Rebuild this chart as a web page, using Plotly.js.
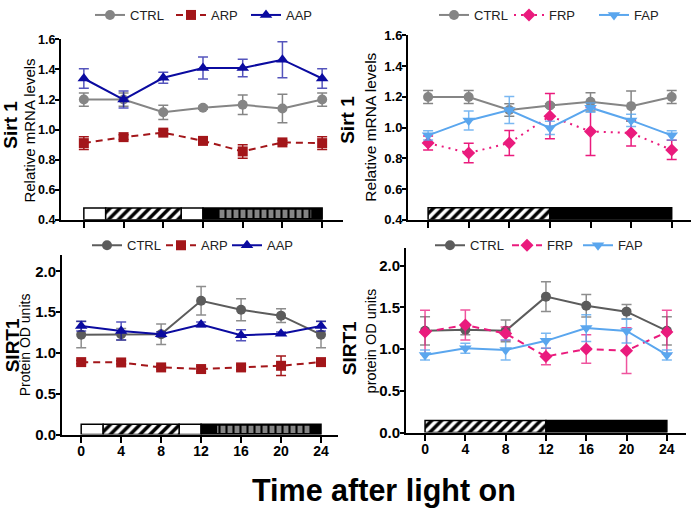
<!DOCTYPE html>
<html>
<head>
<meta charset="utf-8">
<script src="https://cdn.plot.ly/plotly-3.0.1.min.js"></script>
<style>
  html, body { margin: 0; padding: 0; background: #fff; }
  #chart { width: 696px; height: 512px; }
</style>
</head>
<body>
<div id="chart"></div>
<script>
const hours = [0, 4, 8, 12, 16, 20, 24];
const hourTicks = ['0', '4', '8', '12', '16', '20', '24'];

// Sirt 1 mRNA, left panel
const mrnaCtrlA = [1.20, 1.20, 1.115, 1.145, 1.165, 1.14, 1.20];
const mrnaCtrlAErr = [0.044, 0.044, 0.047, 0.01, 0.065, 0.095, 0.044];
const mrnaArp = [0.91, 0.95, 0.98, 0.925, 0.855, 0.915, 0.91];
const mrnaArpErr = [0.042, 0.015, 0.015, 0.012, 0.045, 0.012, 0.042];
const mrnaAap = [1.34, 1.20, 1.345, 1.41, 1.41, 1.465, 1.34];
const mrnaAapErr = [0.065, 0.057, 0.036, 0.073, 0.058, 0.12, 0.065];

// Sirt 1 mRNA, right panel
const mrnaCtrlF = [1.20, 1.20, 1.115, 1.145, 1.168, 1.14, 1.20];
const mrnaCtrlFErr = [0.042, 0.042, 0.04, 0.01, 0.06, 0.098, 0.042];
const mrnaFrp = [0.90, 0.835, 0.90, 1.075, 0.975, 0.965, 0.855];
const mrnaFrpErr = [0.046, 0.064, 0.082, 0.147, 0.156, 0.085, 0.063];
const mrnaFap = [0.95, 1.047, 1.115, 0.998, 1.13, 1.047, 0.95];
const mrnaFapErr = [0.03, 0.062, 0.088, 0.043, 0.03, 0.04, 0.03];

// SIRT1 protein, left panel
const protCtrlA = [1.225, 1.23, 1.23, 1.64, 1.53, 1.458, 1.225];
const protCtrlAErr = [0.16, 0.07, 0.126, 0.175, 0.134, 0.084, 0.16];
const protArp = [0.888, 0.884, 0.823, 0.803, 0.823, 0.843, 0.888];
const protArpErr = [0.02, 0.02, 0.02, 0.03, 0.03, 0.12, 0.02];
const protAap = [1.33, 1.27, 1.23, 1.35, 1.217, 1.237, 1.33];
const protAapErr = [0.06, 0.11, 0.03, 0.03, 0.068, 0.02, 0.06];

// SIRT1 protein, right panel
const protCtrlF = [1.22, 1.234, 1.22, 1.63, 1.52, 1.45, 1.22];
const protCtrlFErr = [0.17, 0.06, 0.13, 0.177, 0.134, 0.087, 0.17];
const protFrp = [1.206, 1.29, 1.187, 0.912, 1.002, 0.982, 1.206];
const protFrpErr = [0.26, 0.18, 0.08, 0.1, 0.17, 0.275, 0.26];
const protFap = [0.931, 1.01, 0.99, 1.1, 1.253, 1.218, 0.931];
const protFapErr = [0.06, 0.06, 0.12, 0.09, 0.16, 0.145, 0.06];

// light / dark schedule strips (hours)
const shiftWhiteStart = [0, 9.8];
const shiftWhiteEnd = [2.2, 12];
const shiftHatchStart = [2.2];
const shiftHatchEnd = [9.8];
const shiftDarkStart = [12];
const shiftDarkEnd = [24];
const shiftGrayStart = [13.6];
const shiftGrayEnd = [22.9];
const fixedHatchStart = [0];
const fixedHatchEnd = [12];
const fixedDarkStart = [12];
const fixedDarkEnd = [24];

const FONT = 'Liberation Sans, Arial, Helvetica, sans-serif';
const CTRL_TOP = '#858585';
const CTRL_BOT = '#5c5c5c';
const ARP_COL = '#a3161a';
const AAP_COL = '#0b0ba0';
const FRP_COL = '#ea1b7d';
const FAP_COL = '#5aa6ee';

const W = 696, H = 512;
const px = v => v / W;
const py = v => 1 - v / H;

// legendwidth only spaces the legend entries out like the original
const series = (y, err, name, color, symbol, dash, axis, legend, slot, errColor) => ({
  type: 'scatter',
  mode: 'lines+markers',
  x: hours,
  y,
  name,
  legend,
  legendwidth: slot,
  xaxis: 'x' + axis,
  yaxis: 'y' + axis,
  line: { color, width: 2, dash },
  marker: { color, symbol, size: symbol.startsWith('triangle') ? 11 : 10 },
  error_y: { type: 'data', array: err, color: errColor || color, thickness: 1.5, width: 5 },
  cliponaxis: false
});

// strip segments as horizontal bars, in data units of each panel
const strip = (starts, ends, yMid, thick, axis, fill, lineW) => ({
  type: 'bar',
  orientation: 'h',
  base: starts,
  x: starts.map((s, i) => ends[i] - s),
  y: starts.map(() => yMid),
  width: starts.map(() => thick),
  xaxis: 'x' + axis,
  yaxis: 'y' + axis,
  showlegend: false,
  hoverinfo: 'skip',
  marker: Object.assign({ line: { color: '#000', width: lineW } }, fill)
});

const WHITE = { color: '#fff' };
const BLACK = { color: '#000' };
const HATCH = {
  color: '#fff',
  pattern: { shape: '/', fgcolor: '#000', bgcolor: '#fff', size: 7, solidity: 0.5 }
};
const GRAYBLOCKS = {
  color: '#808080',
  pattern: { shape: '|', fgcolor: '#000', bgcolor: '#858585', size: 7, solidity: 0.3 }
};

const data = [
  strip(shiftWhiteStart, shiftWhiteEnd, 0.439, 0.078, '', WHITE, 1.5),
  strip(shiftHatchStart, shiftHatchEnd, 0.439, 0.078, '', HATCH, 1.5),
  strip(shiftDarkStart, shiftDarkEnd, 0.439, 0.078, '', BLACK, 1.5),
  strip(shiftGrayStart, shiftGrayEnd, 0.439, 0.055, '', GRAYBLOCKS, 0),
  strip(fixedHatchStart, fixedHatchEnd, 0.439, 0.078, '2', HATCH, 1.5),
  strip(fixedDarkStart, fixedDarkEnd, 0.439, 0.078, '2', BLACK, 1.5),
  strip(shiftWhiteStart, shiftWhiteEnd, 0.063, 0.126, '3', WHITE, 1.5),
  strip(shiftHatchStart, shiftHatchEnd, 0.063, 0.126, '3', HATCH, 1.5),
  strip(shiftDarkStart, shiftDarkEnd, 0.063, 0.126, '3', BLACK, 1.5),
  strip(shiftGrayStart, shiftGrayEnd, 0.063, 0.088, '3', GRAYBLOCKS, 0),
  strip(fixedHatchStart, fixedHatchEnd, 0.072, 0.144, '4', HATCH, 1.5),
  strip(fixedDarkStart, fixedDarkEnd, 0.072, 0.144, '4', BLACK, 1.5),

  series(mrnaCtrlA, mrnaCtrlAErr, 'CTRL', CTRL_TOP, 'circle', 'solid', '', 'legend', 36),
  series(mrnaArp, mrnaArpErr, 'ARP', ARP_COL, 'square', '7px,5px', '', 'legend', 30),
  series(mrnaAap, mrnaAapErr, 'AAP', AAP_COL, 'triangle-up', 'solid', '', 'legend', 30, 'rgba(11,11,160,0.7)'),

  series(mrnaCtrlF, mrnaCtrlFErr, 'CTRL', CTRL_TOP, 'circle', 'solid', '2', 'legend2', 30),
  series(mrnaFrp, mrnaFrpErr, 'FRP', FRP_COL, 'diamond', '2px,5px', '2', 'legend2', 40),
  series(mrnaFap, mrnaFapErr, 'FAP', FAP_COL, 'triangle-down', 'solid', '2', 'legend2', 30, 'rgba(90,166,238,0.8)'),

  series(protCtrlA, protCtrlAErr, 'CTRL', CTRL_BOT, 'circle', 'solid', '3', 'legend3', 29, 'rgba(92,92,92,0.7)'),
  series(protArp, protArpErr, 'ARP', ARP_COL, 'square', '7px,5px', '3', 'legend3', 21),
  series(protAap, protAapErr, 'AAP', AAP_COL, 'triangle-up', 'solid', '3', 'legend3', 30, 'rgba(11,11,160,0.7)'),

  series(protCtrlF, protCtrlFErr, 'CTRL', CTRL_BOT, 'circle', 'solid', '4', 'legend4', 32, 'rgba(92,92,92,0.7)'),
  series(protFrp, protFrpErr, 'FRP', FRP_COL, 'diamond', '7px,5px', '4', 'legend4', 26, 'rgba(234,27,125,0.75)'),
  series(protFap, protFapErr, 'FAP', FAP_COL, 'triangle-down', 'solid', '4', 'legend4', 30, 'rgba(90,166,238,0.8)')
];

const xAxis = (domain, range, anchor, labels) => ({
  domain,
  range,
  anchor,
  showgrid: false,
  zeroline: false,
  showline: true,
  linecolor: '#000',
  linewidth: 2,
  ticks: 'outside',
  ticklen: 6,
  tickwidth: 2,
  tickcolor: '#000',
  tickvals: hours,
  ticktext: hourTicks,
  showticklabels: labels,
  ticklabelstandoff: -3,
  tickfont: { family: FONT, size: 14, weight: 'bold', color: '#000' }
});

const yAxis = (domain, range, anchor, dtick, size) => ({
  domain,
  range,
  anchor,
  showgrid: false,
  zeroline: false,
  showline: true,
  linecolor: '#000',
  linewidth: 2,
  ticks: 'outside',
  ticklen: 4,
  tickwidth: 2,
  tickcolor: '#000',
  dtick,
  tick0: 0,
  tickformat: '.1f',
  ticklabelstandoff: -3,
  tickfont: { family: FONT, size, weight: 'bold', color: '#000' }
});

const legendAt = (x, y) => ({
  orientation: 'h',
  x: px(x),
  y: py(y),
  xanchor: 'left',
  yanchor: 'middle',
  bgcolor: 'rgba(0,0,0,0)',
  font: { family: FONT, size: 13, color: '#222' },
  itemclick: false
});

const yTitle = (x, y, text, size, bold) => ({
  xref: 'paper',
  yref: 'paper',
  x: px(x),
  y: py(y),
  xanchor: 'center',
  yanchor: 'middle',
  textangle: -90,
  showarrow: false,
  text,
  font: { family: FONT, size, color: '#000', weight: bold ? 'bold' : 'normal' }
});

const layout = {
  width: W,
  height: H,
  margin: { l: 0, r: 0, t: 0, b: 0 },
  paper_bgcolor: '#fff',
  plot_bgcolor: 'rgba(0,0,0,0)',
  barmode: 'overlay',
  xaxis: xAxis([px(61), px(343)], [-2.3, 26.1], 'y', false),
  yaxis: yAxis([py(214), py(30)], [0.4, 1.6], 'x', 0.2, 12.5),
  xaxis2: xAxis([px(408), px(691)], [-1.98, 25.9], 'y2', false),
  yaxis2: yAxis([py(214), py(26)], [0.4, 1.6], 'x2', 0.2, 13),
  xaxis3: xAxis([px(62), px(338)], [-1.92, 25.7], 'y3', true),
  yaxis3: yAxis([py(433), py(250)], [0, 2.2], 'x3', 0.5, 15),
  xaxis4: xAxis([px(406), px(686)], [-1.89, 25.9], 'y4', true),
  yaxis4: yAxis([py(431), py(243)], [0, 2.21], 'x4', 0.5, 15),
  legend: legendAt(90, 5),
  legend2: legendAt(434, 5),
  legend3: legendAt(87, 240),
  legend4: legendAt(430, 240),
  annotations: [
    yTitle(11, 117, 'Sirt 1', 19, true),
    yTitle(30, 123, 'Relative mRNA levels', 15, false),
    yTitle(348, 112, 'Sirt 1', 19, true),
    yTitle(371, 120, 'Relative mRNA levels', 15.5, false),
    yTitle(12, 342, 'SIRT1', 19, true),
    yTitle(25, 342, 'Protein OD units', 14, false),
    yTitle(349, 345, 'SIRT1', 19, true),
    yTitle(371, 338, 'protein OD units', 14.5, false),
    {
      xref: 'paper',
      yref: 'paper',
      x: px(384),
      y: py(490),
      xanchor: 'center',
      yanchor: 'middle',
      showarrow: false,
      text: 'Time after light on',
      font: { family: FONT, size: 30.5, weight: 'bold', color: '#000' }
    }
  ]
};

Plotly.newPlot('chart', data, layout, { staticPlot: true });
</script>
</body>
</html>
